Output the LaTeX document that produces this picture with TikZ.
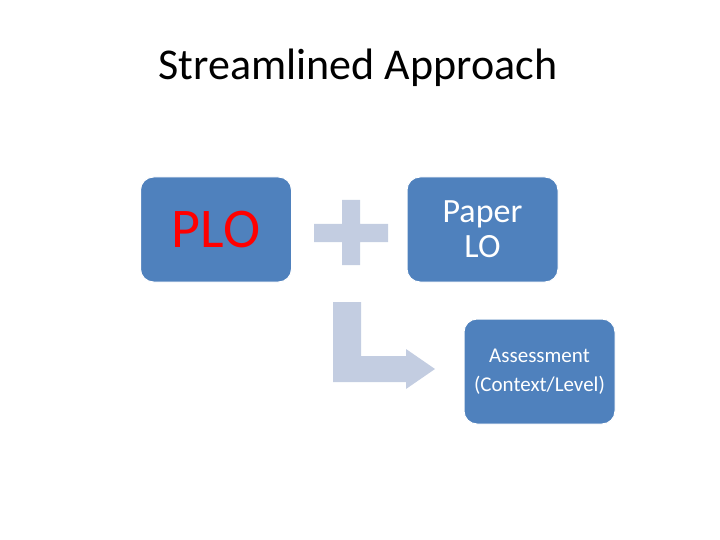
\documentclass[tikz,border=0pt]{standalone}
\usepackage{fontspec}
\setmainfont{Carlito}
\definecolor{boxblue}{HTML}{4F81BD}
\definecolor{arrowgray}{HTML}{C3CDE1}
\definecolor{plored}{HTML}{FF0000}
\begin{document}
\begin{tikzpicture}[x=1pt,y=-1pt,
  blockbox/.style={draw=white,line width=1pt,fill=boxblue,rounded corners=13pt,text=white,align=center,inner sep=0pt,minimum width=151pt,minimum height=105pt},
  shapefill/.style={fill=arrowgray,draw=none}]
\useasboundingbox (0,0) rectangle (720,540);
\node[font=\fontsize{44}{50}\selectfont] (title) at (358,68) {Streamlined Approach};
% boxes
\node[blockbox,font=\fontsize{56}{60}\selectfont,text=plored] (plo) at (216,229.5) {PLO};
\node[blockbox,font=\fontsize{34}{35}\selectfont] (paper) at (482.5,229.5) {Paper\\LO};
\node[blockbox,font=\fontsize{21}{29}\selectfont] (assess) at (539.5,371.5) {Assessment\\(Context/Level)};
% plus
\fill[shapefill] (342,200) -- (360,200) -- (360,224) -- (388,224) -- (388,242) -- (360,242) -- (360,265) -- (342,265) -- (342,242) -- (314,242) -- (314,224) -- (342,224) -- cycle;
% bent arrow
\fill[shapefill] (333,302) -- (361,302) -- (361,356) -- (406,356) -- (406,349) -- (435,369) -- (406,389) -- (406,382) -- (333,382) -- cycle;
\end{tikzpicture}
\end{document}
